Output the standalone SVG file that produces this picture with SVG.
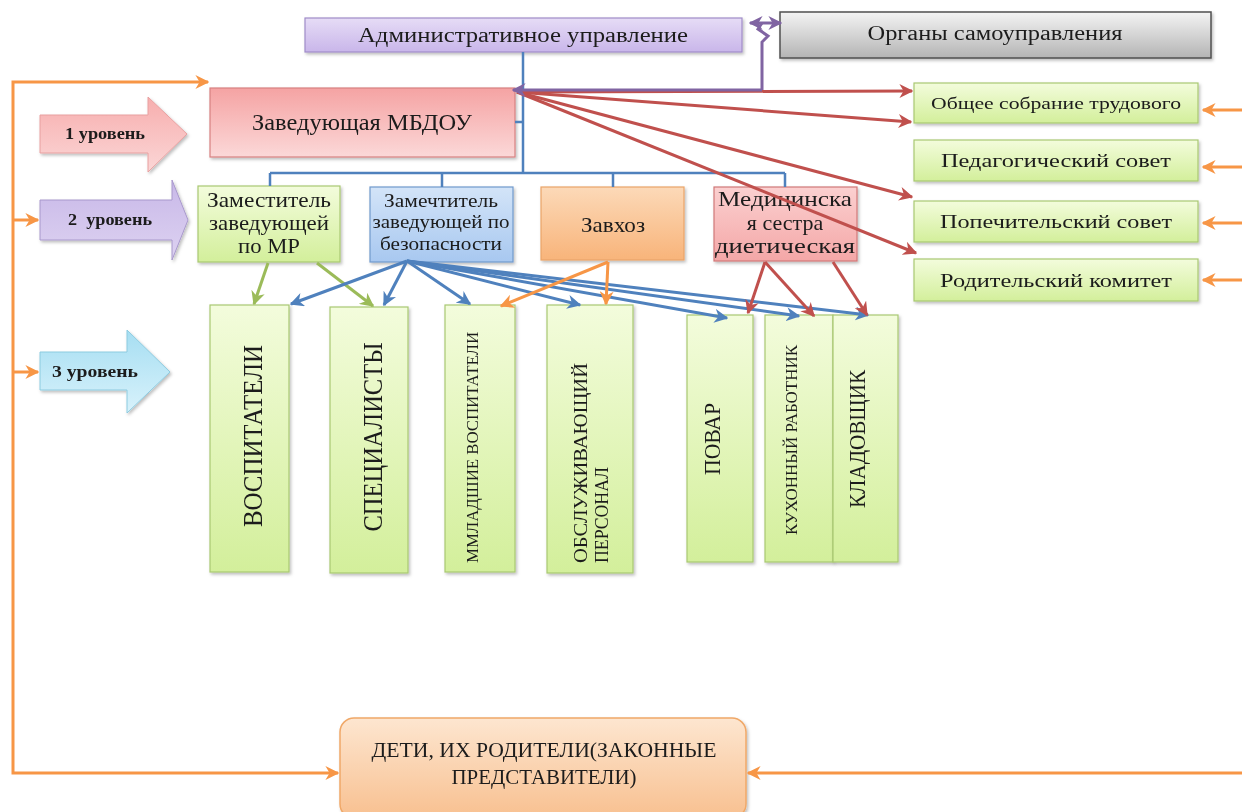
<svg xmlns="http://www.w3.org/2000/svg" width="1242" height="812" viewBox="0 0 1242 812">
<defs>
<linearGradient id="gGreen" x1="0" y1="0" x2="0" y2="1"><stop offset="0" stop-color="#f3fcdc"/><stop offset="1" stop-color="#d3ef9b"/></linearGradient>
<linearGradient id="gBlue" x1="0" y1="0" x2="0" y2="1"><stop offset="0" stop-color="#d3e4f8"/><stop offset="1" stop-color="#a8c8f0"/></linearGradient>
<linearGradient id="gOrange" x1="0" y1="0" x2="0" y2="1"><stop offset="0" stop-color="#fcd9b8"/><stop offset="1" stop-color="#f8b47a"/></linearGradient>
<linearGradient id="gPink" x1="0" y1="0" x2="0" y2="1"><stop offset="0" stop-color="#f5a3a3"/><stop offset="1" stop-color="#fbd8d8"/></linearGradient>
<linearGradient id="gMed" x1="0" y1="0" x2="0" y2="1"><stop offset="0" stop-color="#fbd0d0"/><stop offset="1" stop-color="#f4a7a7"/></linearGradient>
<linearGradient id="gPurple" x1="0" y1="0" x2="0" y2="1"><stop offset="0" stop-color="#e6dcf6"/><stop offset="1" stop-color="#c9b6ea"/></linearGradient>
<linearGradient id="gGray" x1="0" y1="0" x2="0" y2="1"><stop offset="0" stop-color="#f4f4f4"/><stop offset="1" stop-color="#b4b4b4"/></linearGradient>
<linearGradient id="gKids" x1="0" y1="0" x2="0" y2="1"><stop offset="0" stop-color="#fde6d0"/><stop offset="1" stop-color="#f8c090"/></linearGradient>
<linearGradient id="gL1" x1="0" y1="0" x2="0" y2="1"><stop offset="0" stop-color="#f7aeae"/><stop offset="1" stop-color="#fbd6d6"/></linearGradient>
<linearGradient id="gL2" x1="0" y1="0" x2="0" y2="1"><stop offset="0" stop-color="#c8b8e8"/><stop offset="1" stop-color="#ddd2f1"/></linearGradient>
<linearGradient id="gL3" x1="0" y1="0" x2="0" y2="1"><stop offset="0" stop-color="#a6def2"/><stop offset="1" stop-color="#d8f2fb"/></linearGradient>
<filter id="sh" x="-10%" y="-10%" width="130%" height="130%"><feDropShadow dx="1.5" dy="2" stdDeviation="1.5" flood-color="#000" flood-opacity="0.25"/></filter>
<marker id="aBlue" viewBox="0 0 10 10" refX="9" refY="5" markerWidth="14" markerHeight="14" markerUnits="userSpaceOnUse" orient="auto"><path d="M0,0 L10,5 L0,10 L3,5 z" fill="#4f81bd"/></marker>
<marker id="aGreen" viewBox="0 0 10 10" refX="9" refY="5" markerWidth="14" markerHeight="14" markerUnits="userSpaceOnUse" orient="auto"><path d="M0,0 L10,5 L0,10 L3,5 z" fill="#9bbb59"/></marker>
<marker id="aOrange" viewBox="0 0 10 10" refX="9" refY="5" markerWidth="14" markerHeight="14" markerUnits="userSpaceOnUse" orient="auto"><path d="M0,0 L10,5 L0,10 L3,5 z" fill="#f79646"/></marker>
<marker id="aRed" viewBox="0 0 10 10" refX="9" refY="5" markerWidth="14" markerHeight="14" markerUnits="userSpaceOnUse" orient="auto"><path d="M0,0 L10,5 L0,10 L3,5 z" fill="#c0504d"/></marker>
<marker id="aPurple" viewBox="0 0 10 10" refX="9" refY="5" markerWidth="14" markerHeight="14" markerUnits="userSpaceOnUse" orient="auto"><path d="M0,0 L10,5 L0,10 L3,5 z" fill="#8064a2"/></marker>
<marker id="aPurpleS" viewBox="0 0 10 10" refX="1" refY="5" markerWidth="14" markerHeight="14" markerUnits="userSpaceOnUse" orient="auto"><path d="M10,0 L0,5 L10,10 L7,5 z" fill="#8064a2"/></marker>
</defs>
<style>
text{font-family:"Liberation Serif","Times New Roman",serif;fill:#1a1a1a}
.box{filter:url(#sh)}
.green{fill:url(#gGreen);stroke:#a9c872;stroke-width:1.2}
.c{stroke-width:3;fill:none}
.blue{stroke:#4f81bd;marker-end:url(#aBlue)}
.grn{stroke:#9bbb59;marker-end:url(#aGreen)}
.org{stroke:#f79646;marker-end:url(#aOrange)}
.red{stroke:#c0504d;marker-end:url(#aRed)}
.lvl{font-weight:bold;font-size:16px}
</style>

<rect width="1242" height="812" fill="#ffffff"/>

<!-- level arrows -->
<g id="level1" class="box"><path d="M40,115 H148 V97 L187,134 L148,172 V153 H40 Z" fill="url(#gL1)" stroke="#e8a0a0" stroke-width="1"/><text class="lvl" x="65" y="139" textLength="80" lengthAdjust="spacingAndGlyphs">1 уровень</text></g>
<g id="level2" class="box"><path d="M40,200 H172 V180 L188,220 L172,260 V240 H40 Z" fill="url(#gL2)" stroke="#a898cc" stroke-width="1"/><text class="lvl" x="68" y="225" textLength="84" lengthAdjust="spacingAndGlyphs" xml:space="preserve">2  уровень</text></g>
<g id="level3" class="box"><path d="M40,352 H127 V330 L170,372 L127,413 V390 H40 Z" fill="url(#gL3)" stroke="#8ccbe0" stroke-width="1"/><text class="lvl" x="52" y="377" textLength="86" lengthAdjust="spacingAndGlyphs">3 уровень</text></g>

<!-- top -->
<g id="admin" class="box"><rect x="305" y="18" width="437" height="34" fill="url(#gPurple)" stroke="#a08cc8" stroke-width="1.2"/><text x="523" y="42" font-size="20" text-anchor="middle" textLength="330" lengthAdjust="spacingAndGlyphs">Административное управление</text></g>
<g id="organs" class="box"><rect x="780" y="12" width="431" height="46" fill="url(#gGray)" stroke="#505050" stroke-width="1.5"/><text x="995" y="40" font-size="20" text-anchor="middle" textLength="255" lengthAdjust="spacingAndGlyphs">Органы самоуправления</text></g>
<g id="zaved" class="box"><rect x="210" y="88" width="305" height="69" fill="url(#gPink)" stroke="#d88080" stroke-width="1.2"/><text x="362" y="130" font-size="23" text-anchor="middle" textLength="220" lengthAdjust="spacingAndGlyphs">Заведующая МБДОУ</text></g>

<!-- councils -->
<g id="sobranie" class="box"><rect x="914" y="83" width="284" height="40" class="green"/><text x="1056" y="109" font-size="17" text-anchor="middle" textLength="250" lengthAdjust="spacingAndGlyphs">Общее собрание трудового</text></g>
<g id="pedsovet" class="box"><rect x="914" y="140" width="284" height="41" class="green"/><text x="1056" y="167" font-size="19" text-anchor="middle" textLength="230" lengthAdjust="spacingAndGlyphs">Педагогический совет</text></g>
<g id="popsovet" class="box"><rect x="914" y="201" width="284" height="41" class="green"/><text x="1056" y="228" font-size="19" text-anchor="middle" textLength="232" lengthAdjust="spacingAndGlyphs">Попечительский совет</text></g>
<g id="rodkom" class="box"><rect x="914" y="259" width="284" height="42" class="green"/><text x="1056" y="287" font-size="19" text-anchor="middle" textLength="232" lengthAdjust="spacingAndGlyphs">Родительский комитет</text></g>

<!-- level 2 -->
<g id="zam-mr" class="box"><rect x="198" y="186" width="142" height="76" class="green"/>
<text font-size="22" text-anchor="middle"><tspan x="269" y="207" textLength="124" lengthAdjust="spacingAndGlyphs">Заместитель</tspan><tspan x="269" y="230" textLength="120" lengthAdjust="spacingAndGlyphs">заведующей</tspan><tspan x="269" y="253" textLength="62" lengthAdjust="spacingAndGlyphs">по МР</tspan></text></g>
<g id="zam-bez" class="box"><rect x="370" y="187" width="143" height="75" fill="url(#gBlue)" stroke="#7099cc" stroke-width="1.2"/>
<text font-size="19" text-anchor="middle"><tspan x="441" y="207" textLength="114" lengthAdjust="spacingAndGlyphs">Замечтитель</tspan><tspan x="441" y="228" textLength="137" lengthAdjust="spacingAndGlyphs">заведующей по</tspan><tspan x="441" y="250" textLength="122" lengthAdjust="spacingAndGlyphs">безопасности</tspan></text></g>
<g id="zavhoz" class="box"><rect x="541" y="187" width="143" height="73" fill="url(#gOrange)" stroke="#eaa468" stroke-width="1.2"/><text x="613" y="232" font-size="22" text-anchor="middle" textLength="64" lengthAdjust="spacingAndGlyphs">Завхоз</text></g>
<g id="med" class="box"><rect x="714" y="187" width="143" height="74" fill="url(#gMed)" stroke="#d07878" stroke-width="1.2"/>
<text x="785" y="206" font-size="22" text-anchor="middle" textLength="134" lengthAdjust="spacingAndGlyphs">Медицинска</text>
<text x="785" y="230" font-size="22" text-anchor="middle">я сестра</text>
<text x="785" y="253" font-size="22" text-anchor="middle" textLength="140" lengthAdjust="spacingAndGlyphs">диетическая</text></g>

<!-- level 3 -->
<g id="vospitateli" class="box"><rect x="210" y="305" width="79" height="267" class="green"/><text transform="translate(262,436) rotate(-90)" font-size="28" text-anchor="middle" textLength="182" lengthAdjust="spacingAndGlyphs">ВОСПИТАТЕЛИ</text></g>
<g id="specialisty" class="box"><rect x="330" y="307" width="78" height="266" class="green"/><text transform="translate(382,437) rotate(-90)" font-size="27" text-anchor="middle" textLength="189" lengthAdjust="spacingAndGlyphs">СПЕЦИАЛИСТЫ</text></g>
<g id="mladshie" class="box"><rect x="445" y="305" width="70" height="267" class="green"/><text transform="translate(478,563) rotate(-90)" font-size="16" text-anchor="start" textLength="231" lengthAdjust="spacingAndGlyphs">ММЛАДШИЕ ВОСПИТАТЕЛИ</text></g>
<g id="obsluzh" class="box"><rect x="547" y="305" width="86" height="268" class="green"/>
<text transform="translate(587,563) rotate(-90)" font-size="19" textLength="200" lengthAdjust="spacingAndGlyphs">ОБСЛУЖИВАЮЩИЙ</text>
<text transform="translate(608,563) rotate(-90)" font-size="19" textLength="96" lengthAdjust="spacingAndGlyphs">ПЕРСОНАЛ</text></g>
<g id="povar" class="box"><rect x="687" y="315" width="66" height="247" class="green"/><text transform="translate(720,439) rotate(-90)" font-size="23" text-anchor="middle" textLength="72" lengthAdjust="spacingAndGlyphs">ПОВАР</text></g>
<g id="kuhonny" class="box"><rect x="765" y="315" width="68" height="247" class="green"/><text transform="translate(797,440) rotate(-90)" font-size="16" text-anchor="middle" textLength="190" lengthAdjust="spacingAndGlyphs">КУХОННЫЙ РАБОТНИК</text></g>
<g id="kladovshik" class="box"><rect x="833" y="315" width="65" height="247" class="green"/><text transform="translate(865,439) rotate(-90)" font-size="24" text-anchor="middle" textLength="138" lengthAdjust="spacingAndGlyphs">КЛАДОВЩИК</text></g>

<!-- kids -->
<g id="deti" class="box"><rect x="340" y="718" width="406" height="100" rx="14" fill="url(#gKids)" stroke="#f0a868" stroke-width="1.5"/>
<text font-size="21" text-anchor="middle"><tspan x="544" y="757" textLength="345" lengthAdjust="spacingAndGlyphs">ДЕТИ, ИХ РОДИТЕЛИ(ЗАКОННЫЕ</tspan><tspan x="544" y="784" textLength="185" lengthAdjust="spacingAndGlyphs">ПРЕДСТАВИТЕЛИ)</tspan></text></g>

<!-- connectors -->
<g id="connectors">
  <!-- orange loop -->
  <path d="M13,400 V82 H208" class="c org" stroke-width="4"/>
  <path d="M13,400 V773 H338" class="c org" stroke-width="4"/>
  <line x1="13" y1="220" x2="38" y2="220" class="c org"/>
  <line x1="13" y1="372" x2="38" y2="372" class="c org"/>
  <line x1="1242" y1="773" x2="748" y2="773" class="c org" stroke-width="4"/>
  <line x1="1242" y1="110" x2="1203" y2="110" class="c org"/>
  <line x1="1242" y1="167" x2="1203" y2="167" class="c org"/>
  <line x1="1242" y1="223" x2="1203" y2="223" class="c org"/>
  <line x1="1242" y1="280" x2="1203" y2="280" class="c org"/>
  <!-- blue tree -->
  <path d="M523,52 V173 M515,122 H523 M270,173 H785 M270,173 V186 M442,173 V187 M613,173 V187 M785,173 V187" stroke="#4f81bd" stroke-width="2.5" fill="none"/>
  <!-- red to councils -->
  <line x1="517" y1="92" x2="912" y2="91" class="c red"/>
  <line x1="517" y1="92" x2="911" y2="122" class="c red"/>
  <line x1="517" y1="92" x2="912" y2="197" class="c red"/>
  <line x1="517" y1="92" x2="916" y2="253" class="c red"/>
  <!-- purple self-governance link -->
  <path d="M762,90 H513" stroke="#8064a2" stroke-width="3" fill="none" marker-end="url(#aPurple)"/>
  <path d="M762,90 V42 L768,36 L758,29 L762,23" stroke="#8064a2" stroke-width="3" fill="none"/>
  <line x1="750" y1="23" x2="781" y2="23" stroke="#8064a2" stroke-width="3" marker-start="url(#aPurpleS)" marker-end="url(#aPurple)"/>
  <!-- green from Zam MR -->
  <line x1="268" y1="263" x2="254" y2="304" class="c grn"/>
  <line x1="317" y1="263" x2="373" y2="306" class="c grn"/>
  <!-- blue from Zam bezop -->
  <line x1="407" y1="261" x2="291" y2="304" class="c blue"/>
  <line x1="407" y1="261" x2="384" y2="305" class="c blue"/>
  <line x1="407" y1="261" x2="470" y2="304" class="c blue"/>
  <line x1="407" y1="261" x2="580" y2="305" class="c blue"/>
  <line x1="407" y1="261" x2="727" y2="318" class="c blue"/>
  <line x1="407" y1="261" x2="799" y2="316" class="c blue"/>
  <line x1="407" y1="261" x2="868" y2="315" class="c blue"/>
  <!-- orange from Zavhoz -->
  <line x1="608" y1="262" x2="501" y2="306" class="c org"/>
  <line x1="608" y1="262" x2="606" y2="304" class="c org"/>
  <!-- red from Med -->
  <line x1="765" y1="262" x2="748" y2="313" class="c red"/>
  <line x1="765" y1="262" x2="814" y2="316" class="c red"/>
  <line x1="833" y1="262" x2="867" y2="315" class="c red"/>
</g>
</svg>
